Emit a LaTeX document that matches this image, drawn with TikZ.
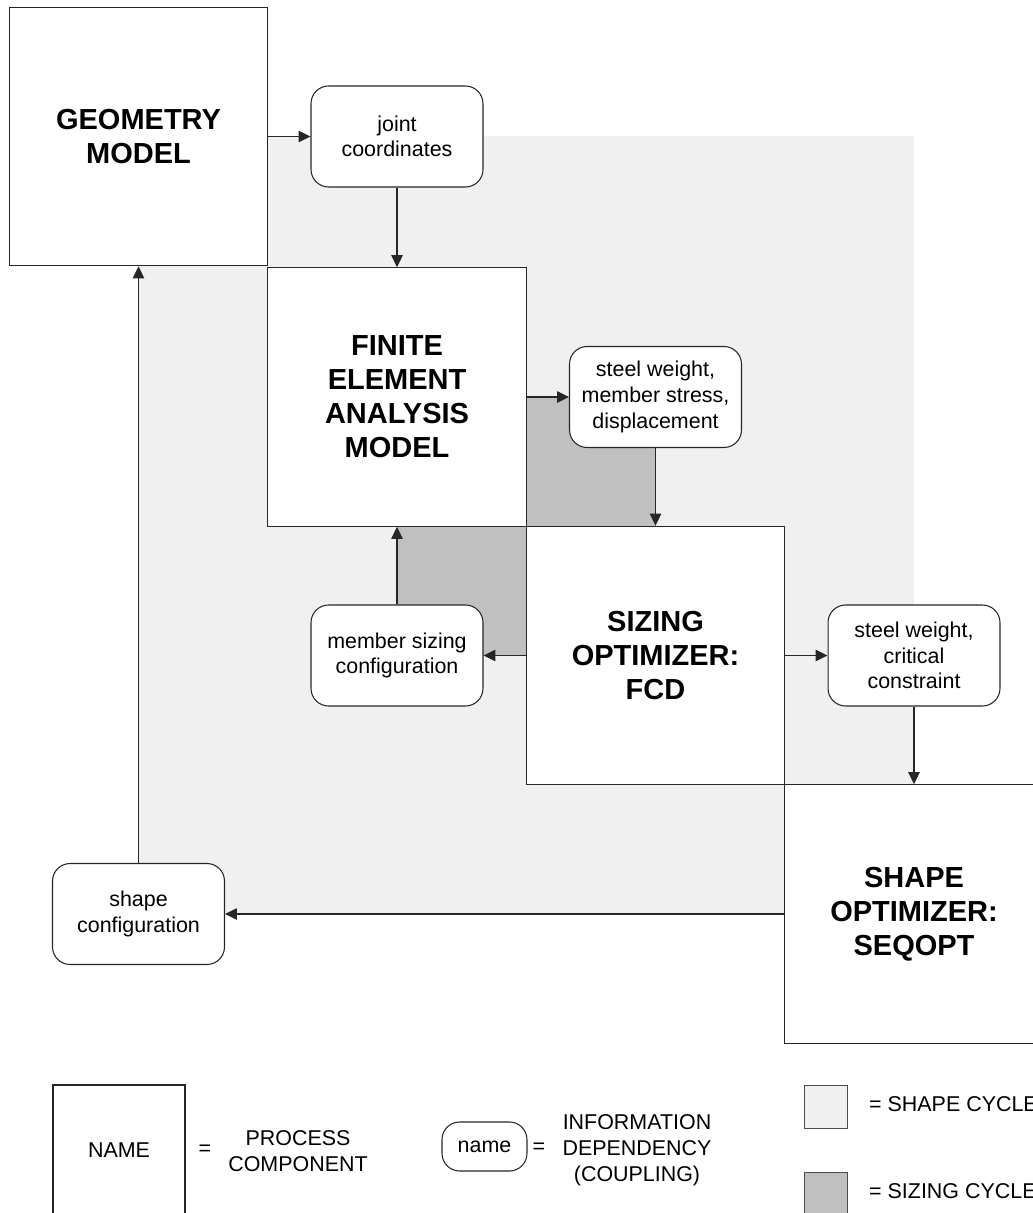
\documentclass[tikz,border=0pt]{standalone}
\usepackage{fontspec}
\setmainfont{Liberation Sans}
\usetikzlibrary{arrows.meta,backgrounds}
\definecolor{shapegray}{RGB}{240,240,240}
\definecolor{sizegray}{RGB}{192,192,192}

\begin{document}
\begin{tikzpicture}[>={Triangle[length=6.8pt,width=6.5pt]},x=0.02cm,y=-0.02cm,
        component/.style={draw=black!85,fill=white,line width=0.7pt,minimum width=5.17cm,minimum height=5.17cm,align=center,font=\fontsize{16.5}{19.3}\selectfont\bfseries},
        coupling/.style={draw=black!85,fill=white,line width=0.6pt,rounded corners=10pt,minimum width=3.44cm,minimum height=2.02cm,align=center,font=\fontsize{12.2}{14.6}\selectfont},
        legend/.style={align=center,font=\fontsize{12.2}{14.8}\selectfont},
        flow/.style={->,draw=black!85,line width=0.6pt}]
        \useasboundingbox(0,0)rectangle(1033,1213);
        % process components
        \node[component](geom) at(138.5,136.5){GEOMETRY\\MODEL};
        \node[component](fea) at(397,397){FINITE\\ELEMENT\\ANALYSIS\\MODEL};
        \node[component](sizing) at(655.5,655.5){SIZING\\OPTIMIZER:\\FCD};
        \node[component](shape) at(914,914){SHAPE\\OPTIMIZER:\\SEQOPT};
        % couplings
        \node[coupling](joint) at(397,136.5){joint\\coordinates};
        \node[coupling](stw) at(655.5,397){steel weight,\\member stress,\\displacement};
        \node[coupling](msc) at(397,655.5){member sizing\\configuration};
        \node[coupling](crit) at(914,655.5){steel weight,\\critical\\constraint};
        \node[coupling](shapecfg) at(138.5,914){shape\\configuration};
        % cycles
        \begin{scope}[on background layer]
            \fill[shapegray](geom.center)rectangle(shape.center);
            \fill[sizegray](fea.center)rectangle(sizing.center);
        \end{scope}
        \draw[flow](geom)--(joint);
        \draw[flow](joint)--(fea);
        \draw[flow](fea)--(stw);
        \draw[flow](stw)--(sizing);
        \draw[flow](sizing)--(msc);
        \draw[flow](msc)--(fea);
        \draw[flow](sizing)--(crit);
        \draw[flow](crit)--(shape);
        \draw[flow](shape)--(shapecfg);
        \draw[flow](shapecfg)--(geom);
        % legend
        \node[legend,draw=black!85,line width=0.6pt,minimum width=2.64cm,minimum height=2.6cm](keyname) at(119,1150){NAME};
        \node[legend](keyeqa) at(205,1150){=};
        \node[legend](keyproc) at(298,1151){PROCESS\\COMPONENT};
        \node[legend,draw=black!85,line width=0.6pt,rounded corners=10pt,minimum width=1.7cm,minimum height=0.98cm](keycoup) at(484.5,1146.5){name};
        \node[legend](keyeqb) at(539,1148){=};
        \node[legend](keyinfo) at(637,1150){INFORMATION\\DEPENDENCY\\(COUPLING)};
        \node[draw=black!70,fill=shapegray,minimum size=0.86cm](keyshape) at(826,1106.5){};
        \node[draw=black!70,fill=sizegray,minimum size=0.86cm](keysize) at(826,1193.5){};
        \node[legend,anchor=west] at(863,1104){= SHAPE CYCLE};
        \node[legend,anchor=west] at(863,1191){= SIZING CYCLE};
    \end{tikzpicture}
\end{document}
